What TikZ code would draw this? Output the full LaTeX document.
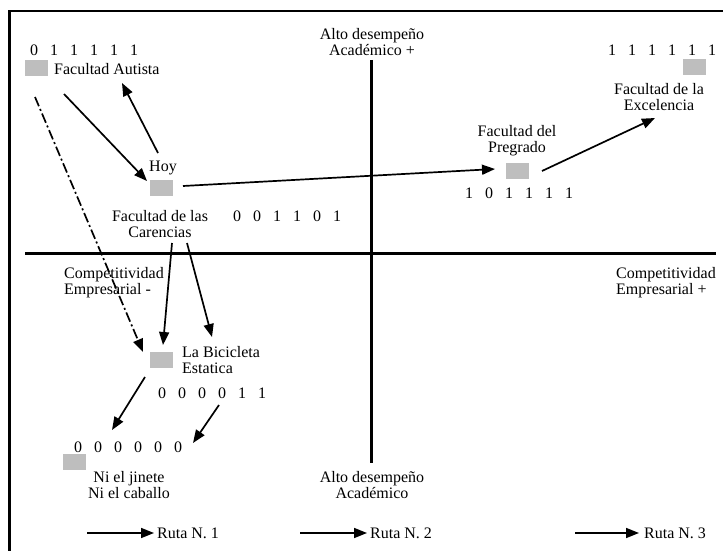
\documentclass[tikz,border=0pt]{standalone}
\usepackage{fontspec}
\setmainfont{Liberation Serif}
\usetikzlibrary{arrows.meta}
\definecolor{sqgray}{RGB}{190,190,190}
\newcommand\dgts[6]{#1\hspace{12pt}#2\hspace{12pt}#3\hspace{12pt}#4\hspace{12pt}#5\hspace{12pt}#6}
\begin{document}
\begin{tikzpicture}[x=1pt,y=-1pt,
  sq/.style={fill=sqgray, minimum width=23pt, minimum height=16pt, inner sep=0pt},
  lbl/.style={font=\fontsize{16}{16}\selectfont, inner sep=0pt, align=center},
  lbll/.style={font=\fontsize{16}{16}\selectfont, inner sep=0pt, align=left, anchor=west},
  arr/.style={line width=1.7pt, -{Triangle[length=13pt,width=10pt]}},
  axisline/.style={line width=2.2pt}]
\useasboundingbox (0,0) rectangle (723,551);
% frame
\draw[line width=2.5pt] (9.5,551) -- (9.5,11) -- (723,11);
% axes
\coordinate (vtop) at (371.5,60);
\coordinate (vbot) at (371.5,463);
\coordinate (hl) at (25,253.5);
\coordinate (hr) at (716,253.5);
\draw[axisline] (vtop) -- (vbot);
\draw[axisline] (hl) -- (hr);
% axis labels
\node[lbl] (ytop) at (372,42) {Alto desempeño\\Académico +};
\node[lbl] (ybot) at (372,485) {Alto desempeño\\Académico};
\node[lbll] (xl) at (64,282.5) {Competitividad\\Empresarial -};
\node[lbll] (xr) at (616,282.5) {Competitividad\\Empresarial +};
% Facultad Autista
\node[sq] (aut) at (36,68.5) {};
\node[lbll] (autl) at (54,69) {Facultad Autista};
\node[lbll] (autd) at (30,50) {\dgts011111};
% Hoy / Carencias
\node[sq] (hoy) at (161.5,187.5) {};
\node[lbl] (hoyl) at (163,168) {Hoy};
\node[lbl] (carl) at (160,224) {Facultad de las\\Carencias};
\node[lbll] (card) at (233,216) {\dgts001101};
% Pregrado
\node[sq] (pre) at (517,171) {};
\node[lbl] (prel) at (517,141) {Facultad del\\Pregrado};
\node[lbll] (pred) at (465,193) {\dgts101111};
% Excelencia
\node[sq] (exc) at (694,67.5) {};
\node[lbll] (excd) at (608,50) {\dgts111111};
\node[lbl] (excl) at (659,97.5) {Facultad de la\\Excelencia};
% Bicicleta
\node[sq] (bic) at (161.5,360) {};
\node[lbll] (bicl) at (182,360.5) {La Bicicleta\\Estatica};
\node[lbll] (bicd) at (158,393) {\dgts000011};
% Ni el jinete
\node[sq] (ni) at (74.5,462) {};
\node[lbll] (nid) at (74,447) {\dgts000000};
\node[lbl] (nil) at (129,485.5) {Ni el jinete\\Ni el caballo};
% arrow end points
\coordinate (a1s) at (64,94);   \coordinate (a1e) at (147,181);
\coordinate (a2s) at (158,153); \coordinate (a2e) at (122,83);
\coordinate (dds) at (35,97);   \coordinate (dde) at (143,352);
\coordinate (a3s) at (183,186); \coordinate (a3e) at (495,169);
\coordinate (a4s) at (542,171); \coordinate (a4e) at (655,118);
\coordinate (a5s) at (172,243); \coordinate (a5e) at (163,345);
\coordinate (a6s) at (187,243); \coordinate (a6e) at (212,337);
\coordinate (a7s) at (145,377); \coordinate (a7e) at (112,430);
\coordinate (a8s) at (219,405); \coordinate (a8e) at (193,443);
\draw[arr] (a1s) -- (a1e);
\draw[arr] (a2s) -- (a2e);
\draw[arr, dash pattern=on 10pt off 3pt on 2pt off 3pt] (dds) -- (dde);
\draw[arr] (a3s) -- (a3e);
\draw[arr] (a4s) -- (a4e);
\draw[arr] (a5s) -- (a5e);
\draw[arr] (a6s) -- (a6e);
\draw[arr] (a7s) -- (a7e);
\draw[arr] (a8s) -- (a8e);
% legend
\coordinate (r1s) at (87,533);  \coordinate (r1e) at (154,533);
\coordinate (r2s) at (300,533); \coordinate (r2e) at (367,533);
\coordinate (r3s) at (575,533); \coordinate (r3e) at (639,533);
\draw[arr] (r1s) -- (r1e);
\draw[arr] (r2s) -- (r2e);
\draw[arr] (r3s) -- (r3e);
\node[lbll] (r1) at (157,533) {Ruta N. 1};
\node[lbll] (r2) at (370,533) {Ruta N. 2};
\node[lbll] (r3) at (644,533) {Ruta N. 3};
\end{tikzpicture}
\end{document}
